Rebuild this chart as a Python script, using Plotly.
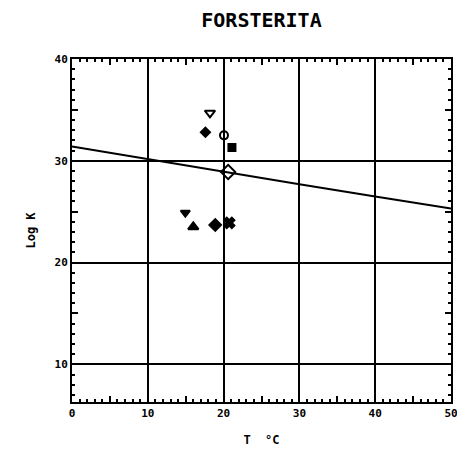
import plotly.graph_objects as go

# Regression line (T in °C, log K)
line_t = [0, 10, 20, 30, 40, 50]
line_logk = [31.4, 30.15, 28.9, 27.7, 26.5, 25.3]

# Individual data points
pt_t = [18.2, 17.6, 20.05, 21.1, 20.6, 14.95, 16.0, 18.9, 20.75]
pt_logk = [34.7, 32.8, 32.5, 31.3, 28.9, 24.9, 23.5, 23.7, 23.9]
pt_symbol = ["triangle-down-open", "diamond", "circle-open", "square", "diamond-open",
             "triangle-down", "triangle-up", "diamond", "x"]
pt_size = [9, 7, 8, 7, 11, 8, 9, 9, 9]

x_ticks = [0, 10, 20, 30, 40, 50]
y_ticks = [10, 20, 30, 40]
x_mid_ticks = [5, 15, 25, 35, 45]
y_mid_ticks = [15, 25, 35]

X_RANGE = [0, 50]
Y_RANGE = [6.3, 40]
FONT = "DejaVu Sans Mono"

fig = go.Figure()
fig.add_trace(go.Scatter(x=line_t, y=line_logk, mode="lines",
                         line=dict(color="black", width=2), showlegend=False, hoverinfo="skip"))
fig.add_trace(go.Scatter(x=pt_t, y=pt_logk, mode="markers", opacity=1,
                         marker=dict(symbol=pt_symbol, size=pt_size, color="#000000", opacity=1,
                                     line=dict(color="#000000", width=2)),
                         showlegend=False))
# invisible trace to host the overlay axes carrying the mid ticks
fig.add_trace(go.Scatter(x=[None], y=[None], xaxis="x2", yaxis="y2",
                         showlegend=False, hoverinfo="skip"))

common_axis = dict(showline=True, linecolor="black", linewidth=2, mirror="ticks",
                   showgrid=True, gridcolor="black", gridwidth=2, zeroline=False,
                   ticks="inside", ticklen=5, tickcolor="black", tickwidth=1.5,
                   automargin=False, ticklabeloverflow="allow",
                   tickfont=dict(family=FONT, size=11, color="black", weight="bold"),
                   minor=dict(ticks="inside", ticklen=3, tickcolor="black", tickwidth=1.5,
                              dtick=1, showgrid=False))

mid_axis = dict(showline=False, showgrid=False, zeroline=False, showticklabels=False,
                ticks="inside", ticklen=6, tickcolor="black", tickwidth=2,
                mirror="ticks", automargin=False)

fig.update_layout(
    width=457, height=455,
    margin=dict(l=72, r=6, t=59, b=53),
    paper_bgcolor="white", plot_bgcolor="white",
    title=dict(text="FORSTERITA", x=(72 + 451) / 2 / 457, xanchor="center",
               y=1 - 20 / 455, yanchor="middle",
               font=dict(family=FONT, size=20, color="black", weight="bold")),
    xaxis=dict(range=X_RANGE, tickvals=x_ticks, ticktext=[str(v) for v in x_ticks],
               title=dict(text="T  °C", standoff=16,
                          font=dict(family=FONT, size=12, color="black", weight="bold")),
               **common_axis),
    yaxis=dict(range=Y_RANGE, tickvals=y_ticks, ticktext=[str(v) for v in y_ticks],
               title=dict(text="Log K", standoff=16,
                          font=dict(family=FONT, size=12, color="black", weight="bold")),
               **common_axis),
    xaxis2=dict(range=X_RANGE, overlaying="x", anchor="y2", tickvals=x_mid_ticks, **mid_axis),
    yaxis2=dict(range=Y_RANGE, overlaying="y", anchor="x2", tickvals=y_mid_ticks, **mid_axis),
)

fig.write_html("out.html")
